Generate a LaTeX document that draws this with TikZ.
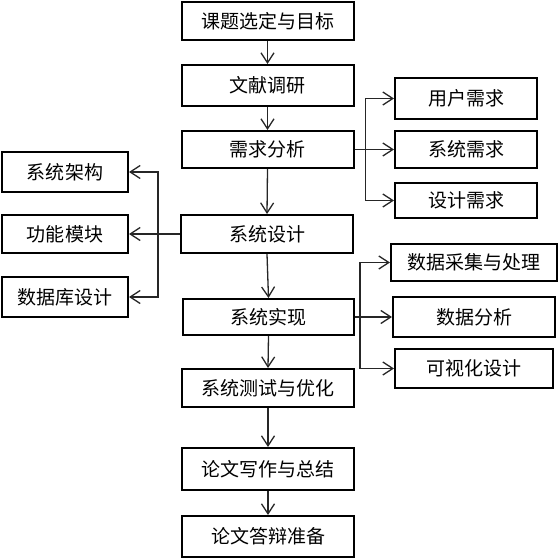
\documentclass[tikz,border=0pt]{standalone}
\usepackage{fontspec}
\newfontfamily\cjk{Noto Sans CJK SC}
\usetikzlibrary{arrows.meta}
\begin{document}
\begin{tikzpicture}[x=1pt,y=-1pt,
  box/.style={draw=black,line width=2pt,inner sep=0pt,minimum width=172pt,minimum height=38pt,font=\cjk\fontsize{19}{20}\selectfont},
  lbox/.style={box,minimum width=126pt,minimum height=40pt},
  rbox/.style={box,minimum width=142pt,minimum height=37pt},
  arr/.style={draw=black!85,line width=1.3pt,-{Straight Barb[length=10pt,width=13pt,line width=1.3pt]}}
]
\useasboundingbox (0,0) rectangle (559,559);
% main column
\node[box,minimum height=38pt] (t1) at (267.5,21) {课题选定与目标};
\node[box,minimum height=41pt] (t2) at (267.5,85.5) {文献调研};
\node[box,minimum height=37pt] (t3) at (267.5,149.5) {需求分析};
\node[box,minimum height=38pt] (t4) at (267,234) {系统设计};
\node[box,minimum height=36pt,minimum width=171pt] (t5) at (268.5,317) {系统实现};
\node[box,minimum height=38pt] (t6) at (268,388) {系统测试与优化};
\node[box,minimum height=42pt] (t7) at (268,469) {论文写作与总结};
\node[box,minimum height=41pt] (t8) at (268,536.5) {论文答辩准备};
% left column
\node[lbox] (l1) at (65,172) {系统架构};
\node[lbox,minimum height=38pt] (l2) at (65,234) {功能模块};
\node[lbox] (l3) at (65,297) {数据库设计};
% upper right
\node[rbox,minimum height=41pt] (r1) at (466,98.5) {用户需求};
\node[rbox] (r2) at (466,149.5) {系统需求};
\node[rbox,minimum height=35pt] (r3) at (466,200.5) {设计需求};
% lower right
\node[box,minimum width=166pt,minimum height=37pt] (s1) at (474,262.5) {数据采集与处理};
\node[box,minimum width=162pt,minimum height=40pt] (s2) at (474,317) {数据分析};
\node[box,minimum width=158pt,minimum height=39pt] (s3) at (474,368.5) {可视化设计};
% main arrows
\draw[arr] (t1.south) -- (t2.north);
\draw[arr] (t2.south) -- (t3.north);
\draw[arr] (t3.south) -- (t4.north);
\draw[arr] (t4.south) -- (t5.north);
\draw[arr] (t5.south) -- (t6.north);
\draw[arr] (t6.south) -- (t7.north);
\draw[arr] (t7.south) -- (t8.north);
% upper right branches
\draw[arr] (t3.east) -- ++(11,0) |- (r1.west);
\draw[arr] (t3.east) -- (r2.west);
\draw[arr] (t3.east) -- ++(11,0) |- (r3.west);
% left branches
\draw[arr] (t4.west) -- ++(-22,0) |- (l1.east);
\draw[arr] (t4.west) -- (l2.east);
\draw[arr] (t4.west) -- ++(-22,0) |- (l3.east);
% lower right branches
\draw[arr] (t5.east) -- ++(5,0) |- (s1.west);
\draw[arr] (t5.east) -- (s2.west);
\draw[arr] (t5.east) -- ++(5,0) |- (s3.west);
\end{tikzpicture}
\end{document}
